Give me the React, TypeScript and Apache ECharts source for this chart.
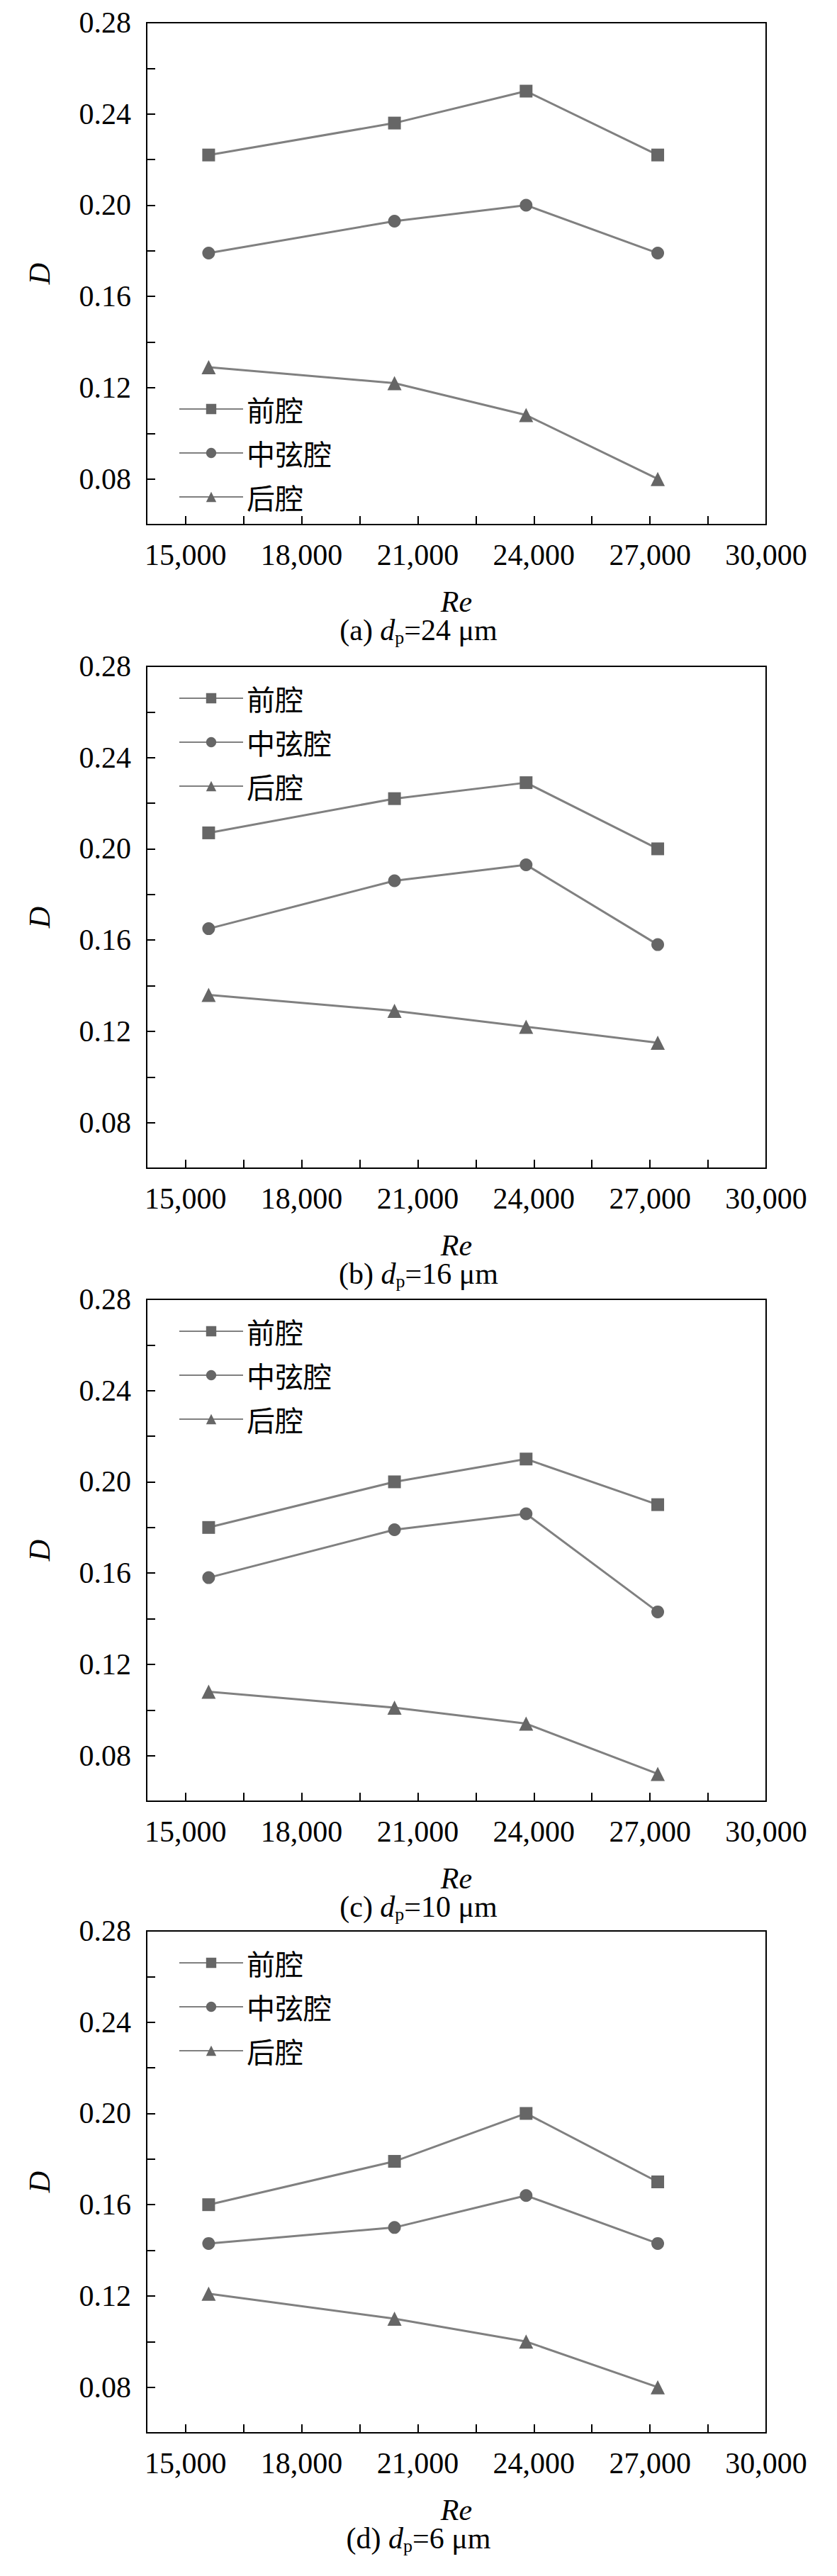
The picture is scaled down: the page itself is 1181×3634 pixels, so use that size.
import React, { useEffect, useRef } from 'react';
import * as echarts from 'echarts';

const reValues = [15600, 20400, 23800, 27200];
const seriesNames = ['前腔', '中弦腔', '后腔'];
const panelLabels = ['24', '16', '10', '6'];
const xTicks = [15000, 18000, 21000, 24000, 27000, 30000];
const xMinorTicks = [15000, 16500, 18000, 19500, 21000, 22500, 24000, 25500, 27000, 28500];
const yTicks = [0.08, 0.12, 0.16, 0.2, 0.24, 0.28];
const yMinorTicks = [0.08, 0.1, 0.12, 0.14, 0.16, 0.18, 0.2, 0.22, 0.24, 0.26];

const frontA = [0.222, 0.236, 0.25, 0.222];
const midA = [0.179, 0.193, 0.2, 0.179];
const backA = [0.129, 0.122, 0.108, 0.08];
const frontB = [0.207, 0.222, 0.229, 0.2];
const midB = [0.165, 0.186, 0.193, 0.158];
const backB = [0.136, 0.129, 0.122, 0.115];
const frontC = [0.18, 0.2, 0.21, 0.19];
const midC = [0.158, 0.179, 0.186, 0.143];
const backC = [0.108, 0.101, 0.094, 0.072];
const frontD = [0.16, 0.179, 0.2, 0.17];
const midD = [0.143, 0.15, 0.164, 0.143];
const backD = [0.121, 0.11, 0.1, 0.08];

const panels = [
  [frontA, midA, backA],
  [frontB, midB, backB],
  [frontC, midC, backC],
  [frontD, midD, backD],
];
const symbols = ['rect', 'circle', 'triangle'];

const App: React.FC = () => {
  const ref = useRef<HTMLDivElement>(null);

  useEffect(() => {
    const chart = echarts.init(ref.current!, null, { renderer: 'svg' });
    const tops = [24, 932, 1825, 2716];
    const left = 199;
    const width = 874;
    const height = 708;
    const font = 'Liberation Serif';

    const grid: any[] = [];
    const xAxis: any[] = [];
    const yAxis: any[] = [];
    const series: any[] = [];
    const legend: any[] = [];
    const graphic: any[] = [];

    tops.forEach((top, i) => {
      grid.push({
        left, top, width, height, show: true,
        borderColor: '#000', borderWidth: 2, backgroundColor: 'transparent',
      });
      xAxis.push({
        type: 'value', gridIndex: i, min: 14000, max: 30000,
        axisLine: { lineStyle: { color: '#000', width: 2 } },
        axisTick: {
          inside: true, length: 12, customValues: xMinorTicks,
          lineStyle: { color: '#000', width: 2 },
        },
        splitLine: { show: false },
        axisLabel: {
          color: '#000', fontFamily: font, fontSize: 42, margin: 22,
          customValues: xTicks, showMinLabel: true, showMaxLabel: true,
        },
        name: 'Re', nameLocation: 'middle', nameGap: 88,
        nameTextStyle: { fontFamily: font, fontSize: 42, fontStyle: 'italic', color: '#000' },
      });
      yAxis.push({
        type: 'value', gridIndex: i, min: 0.06, max: 0.28,
        axisLine: { lineStyle: { color: '#000', width: 2 } },
        axisTick: {
          inside: true, length: 12, customValues: yMinorTicks,
          lineStyle: { color: '#000', width: 2 },
        },
        splitLine: { show: false },
        axisLabel: {
          color: '#000', fontFamily: font, fontSize: 42, margin: 22,
          customValues: yTicks, showMaxLabel: true,
          formatter: (v: number) => v.toFixed(2),
        },
        name: 'D', nameLocation: 'middle', nameGap: 130,
        nameTextStyle: { fontFamily: font, fontSize: 42, fontStyle: 'italic', color: '#000' },
      });
      panels[i].forEach((vals, k) => {
        series.push({
          type: 'line', name: seriesNames[k], xAxisIndex: i, yAxisIndex: i,
          data: reValues.map((x, j) => [x, vals[j]]),
          symbol: symbols[k], symbolSize: k === 2 ? 20 : 18,
          lineStyle: { color: '#808080', width: 3 },
          itemStyle: { color: '#666' },
        });
      });
      legend.push({
        data: seriesNames, orient: 'vertical', left: left + 40,
        top: i === 0 ? top + 520 : top + 20,
        itemWidth: 90, itemHeight: 18, itemGap: 22,
        textStyle: { fontFamily: 'Noto Sans CJK SC', fontSize: 40, color: '#000' },
      });
      graphic.push({
        type: 'text', left: 'center', top: top + height + 128,
        style: {
          text: `{n|(${String.fromCharCode(97 + i)}) }{i|d}{s|p}{n|=${panelLabels[i]} μm}`,
          rich: {
            n: { fontFamily: font, fontSize: 42, fill: '#000' },
            i: { fontFamily: font, fontSize: 42, fontStyle: 'italic', fill: '#000' },
            s: { fontFamily: font, fontSize: 26, fill: '#000', padding: [20, 0, 0, 0] },
          },
        },
      });
    });

    chart.setOption({ animation: false, grid, xAxis, yAxis, series, legend, graphic });
    return () => chart.dispose();
  }, []);

  return <div ref={ref} style={{ width: '1165px', height: '3618px' }} />;
};

export default App;
